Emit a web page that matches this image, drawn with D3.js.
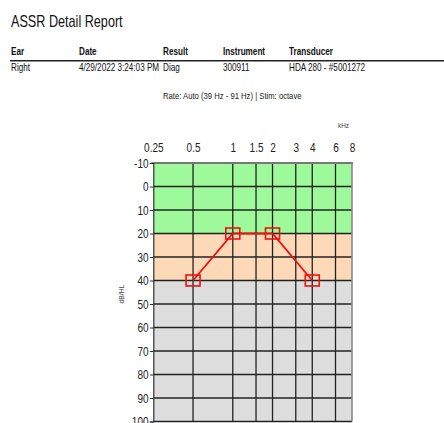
<!DOCTYPE html>
<html>
<head>
<meta charset="utf-8">
<script src="https://cdn.jsdelivr.net/npm/d3@7"></script>
<style>
body{margin:0;background:#fff;}
text{font-family:"Liberation Sans",Arial,sans-serif;}
</style>
</head>
<body>
<svg id="c" width="444" height="423"></svg>
<script>
const headers = ["Ear","Date","Result","Instrument","Transducer"];
const values = ["Right","4/29/2022 3:24:03 PM","Diag","300911","HDA 280 - #5001272"];
const freqTicks = [0.25,0.5,1,1.5,2,3,4,6,8];
const freqLabels = ["0.25","0.5","1","1.5","2","3","4","6","8"];
const dbTicks = [-10,0,10,20,30,40,50,60,70,80,90,100];
const dbLabels = ["-10","0","10","20","30","40","50","60","70","80","90","100"];
const bands = [{from:-10,to:20,color:"#9ef99a"},{from:20,to:40,color:"#fdd9b8"},{from:40,to:100,color:"#dddddd"}];
const freqs = [0.5,1,2,4];
const thresholds = [40,20,20,40];

const SX = 0.8; // narrow font emulation
const svg = d3.select("#c");
const colX = [11,79,163,223,289];

function T(x, y, str, size, opts={}) {
  const t = svg.append("text")
    .attr("transform", `translate(${x},${y}) scale(${SX},1)`)
    .attr("font-size", size).attr("fill", opts.fill || "#111")
    .text(str);
  if (opts.bold) t.attr("font-weight","bold");
  if (opts.anchor) t.attr("text-anchor", opts.anchor);
  return t;
}

T(11, 26.5, "ASSR Detail Report", 15.8);
headers.forEach((h,i)=>T(colX[i], 55, h, 10.2, {bold:true}));
svg.append("line").attr("x1",10).attr("x2",444).attr("y1",60.8).attr("y2",60.8).attr("stroke","#222").attr("stroke-width",1.6);
values.forEach((v,i)=>T(colX[i], 70.5, v, 10.2));
T(163, 98.5, "Rate: Auto (39 Hz - 91 Hz) | Stim: octave", 9.6, {fill:"#222"});

const x = d3.scaleLog().domain([0.25,8]).range([153.3,352]);
const y = d3.scaleLinear().domain([-10,100]).range([163,421.5]);

const g = svg.append("g");
g.selectAll(".band").data(bands).enter().append("rect")
  .attr("x",x(0.25)).attr("width",x(8)-x(0.25))
  .attr("y",d=>y(d.from)).attr("height",d=>y(d.to)-y(d.from)).attr("fill",d=>d.color);

g.selectAll(".hg").data(dbTicks.filter(d=>d>-10)).enter().append("line")
  .attr("x1",x(0.25)).attr("x2",x(8)).attr("y1",d=>y(d)).attr("y2",d=>y(d))
  .attr("stroke","#222").attr("stroke-width",1.3);
g.selectAll(".vg").data(freqTicks.filter(d=>d>0.25&&d<8)).enter().append("line")
  .attr("y1",y(-10)).attr("y2",y(100)).attr("x1",d=>x(d)).attr("x2",d=>x(d))
  .attr("stroke","#222").attr("stroke-width",1.3);
g.append("line").attr("x1",x(0.25)-2).attr("x2",x(8)+1).attr("y1",y(-10)).attr("y2",y(-10)).attr("stroke","#777").attr("stroke-width",2);
g.append("line").attr("x1",x(8)).attr("x2",x(8)).attr("y1",y(-10)).attr("y2",y(100)).attr("stroke","#888").attr("stroke-width",1.6);

const topAxis = svg.append("g").attr("transform",`translate(0,${y(-10)})`)
  .call(d3.axisTop(x).tickValues(freqTicks).tickFormat((d,i)=>freqLabels[i]).tickSize(0).tickPadding(11));
topAxis.select(".domain").remove();
topAxis.selectAll("text").attr("font-size",12.5).attr("fill","#222")
  .attr("transform",`scale(${SX},1)`).style("font-family",'"Liberation Sans",Arial,sans-serif');
T(349, 128, "kHz", 8, {anchor:"end", fill:"#444"});

const leftAxis = svg.append("g").attr("transform",`translate(${x(0.25)},0)`)
  .call(d3.axisLeft(y).tickValues(dbTicks).tickFormat((d,i)=>dbLabels[i]).tickSize(3.5).tickPadding(2.5));
leftAxis.select(".domain").attr("stroke","#333").attr("stroke-width",1.2);
leftAxis.selectAll(".tick line").attr("stroke","#333");
leftAxis.selectAll("text").attr("font-size",12.5).attr("fill","#222")
  .attr("transform",`scale(${SX},1)`).style("font-family",'"Liberation Sans",Arial,sans-serif');

svg.append("text").attr("transform","translate(123.5,294) rotate(-90) scale(0.85,1)")
  .attr("text-anchor","middle").attr("font-size",8).attr("fill","#444").text("dB/HL");

const pts = freqs.map((f,i)=>[f,thresholds[i]]);
svg.append("path").datum(pts)
  .attr("d",d3.line().x(d=>x(d[0])).y(d=>y(d[1])))
  .attr("fill","none").attr("stroke","#ee1111").attr("stroke-width",1.8);
svg.selectAll(".m").data(pts).enter().append("rect")
  .attr("x",d=>x(d[0])-7).attr("y",d=>y(d[1])-5.5).attr("width",14).attr("height",11)
  .attr("fill","none").attr("stroke","#ee1111").attr("stroke-width",1.6);
</script>
</body>
</html>
